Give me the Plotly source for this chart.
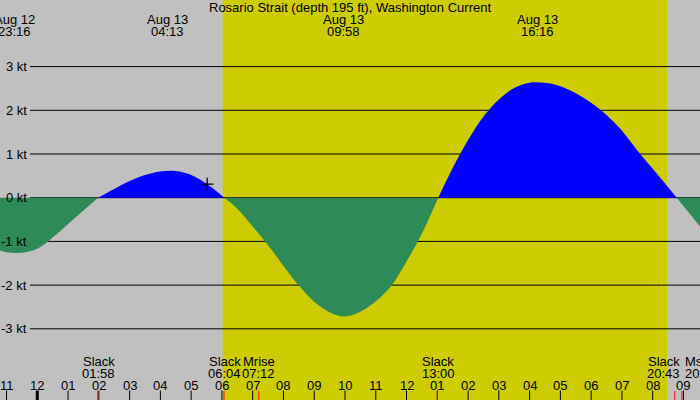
import plotly.graph_objects as go

# ---- data (hours since Aug 13 00:00) ----
flow_hours = [-1.212, -1.0, -0.5, 0.0, 0.5, 1.0, 1.5, 1.98,
              2.5, 3.0, 3.5, 4.0, 4.5, 5.0, 5.5, 6.08,
              6.5, 7.0, 7.5, 8.0, 8.5, 9.0, 9.5, 10.0, 10.5, 11.0, 11.5, 12.0, 12.5, 13.03,
              13.5, 14.0, 14.5, 15.0, 15.5, 16.0, 16.5, 17.0, 17.5, 18.0, 18.5,
              19.0, 19.5, 20.0, 20.5, 20.78,
              21.0, 21.25, 21.537]
flow_knots = [-1.21, -1.25, -1.26, -1.17, -0.91, -0.6, -0.29, 0,
              0.2, 0.38, 0.52, 0.6, 0.61, 0.52, 0.32, 0,
              -0.25, -0.66, -1.09, -1.56, -2.01, -2.38, -2.62, -2.72, -2.61, -2.37, -2.02, -1.46, -0.82, 0,
              0.68, 1.32, 1.86, 2.25, 2.51, 2.63, 2.63, 2.55, 2.39, 2.17, 1.89,
              1.53, 1.08, 0.66, 0.24, 0,
              -0.19, -0.41, -0.66]

max_dates = ["Aug 12", "Aug 13", "Aug 13", "Aug 13"]
max_times = ["23:16", "04:13", "09:58", "16:16"]
max_hours = [-0.733, 4.217, 9.967, 16.267]

event_names = ["Slack", "Slack", "Mrise", "Slack", "Slack", "Mset"]
event_times = ["01:58", "06:04", "07:12", "13:00", "20:43", "20:57"]
event_hours = [1.967, 6.067, 7.2, 13.0, 20.717, 20.95]

hour_ticks = list(range(-1, 22))
hour_labels = ["11", "12", "01", "02", "03", "04", "05", "06", "07", "08", "09", "10",
               "11", "12", "01", "02", "03", "04", "05", "06", "07", "08", "09"]

kt_levels = [3, 2, 1, 0, -1, -2, -3]
kt_labels = ["3 kt", "2 kt", "1 kt", "0 kt", "-1 kt", "-2 kt", "-3 kt"]

sunrise_h = 6.025
sunset_h = 20.465
now_h, now_kt = 5.52, 0.31

title = "Rosario Strait (depth 195 ft), Washington Current"

# ---- style ----
W, H = 700, 400
GRAY = "#c0c0c0"
YELLOW = "#cccc00"
BLUE = "#0000ff"
GREEN = "#2e8b57"
FONT = dict(family="Liberation Sans, Arial, sans-serif", size=13, color="#000000")
XR = [-1.212, 21.537]
YR = [-4.629, 4.524]


def py(p):
    return 1 - p / H


fig = go.Figure()

# split the flow into same-sign segments
segs = []
cur = [(flow_hours[0], flow_knots[0])]
for t, v in zip(flow_hours[1:], flow_knots[1:]):
    cur.append((t, v))
    if v == 0:
        segs.append(cur)
        cur = [(t, v)]
if len(cur) > 1:
    segs.append(cur)

for s in segs:
    xs = [p[0] for p in s]
    ys = [p[1] for p in s]
    pos = sum(ys) > 0
    fig.add_trace(go.Scatter(
        x=xs, y=ys, mode="lines", fill="tozeroy",
        line=dict(width=0, shape="spline", smoothing=1.0),
        fillcolor=BLUE if pos else GREEN, hoverinfo="skip", showlegend=False))

fig.add_trace(go.Scatter(
    x=[now_h], y=[now_kt], mode="markers",
    marker=dict(symbol="cross-thin", size=9, line=dict(color="black", width=1.3)),
    showlegend=False, hoverinfo="skip"))

shapes = [
    dict(type="rect", xref="paper", yref="paper", x0=0, x1=1, y0=0, y1=1,
         fillcolor=GRAY, line=dict(width=0), layer="below"),
    dict(type="rect", xref="x", yref="paper", x0=sunrise_h, x1=sunset_h, y0=0, y1=1,
         fillcolor=YELLOW, line=dict(width=0), layer="below"),
]
for k in kt_levels:
    shapes.append(dict(type="line", xref="paper", yref="y", x0=30 / W, x1=1, y0=k, y1=k,
                       line=dict(color="black", width=1), layer="below"))
for h in hour_ticks:
    shapes.append(dict(type="line", xref="x", yref="paper", x0=h, x1=h,
                       y0=0, y1=py(390.5),
                       line=dict(color="black", width=3 if h % 24 == 0 else 1)))
for h in event_hours:
    shapes.append(dict(type="line", xref="x", yref="paper", x0=h, x1=h,
                       y0=0, y1=py(391),
                       line=dict(color="red", width=1)))

ann = []
ann.append(dict(text=title, xref="paper", yref="paper", x=0.5, y=py(7.5),
                xanchor="center", yanchor="middle", showarrow=False, font=FONT))
for d, t, h in zip(max_dates, max_times, max_hours):
    ann.append(dict(text=d, xref="x", yref="paper", x=h, y=py(19.5),
                    xanchor="center", yanchor="middle", showarrow=False, font=FONT))
    ann.append(dict(text=t, xref="x", yref="paper", x=h, y=py(31.5),
                    xanchor="center", yanchor="middle", showarrow=False, font=FONT))
shifts = [1, 1, 0, 1, -11, 1]
anchors = ["center", "center", "center", "center", "center", "left"]
for i, (n, t, h) in enumerate(zip(event_names, event_times, event_hours)):
    ann.append(dict(text=n, xref="x", yref="paper", x=h, y=py(361.5), xshift=shifts[i],
                    xanchor=anchors[i], yanchor="middle", showarrow=False, font=FONT))
    ann.append(dict(text=t, xref="x", yref="paper", x=h, y=py(373.3), xshift=shifts[i],
                    xanchor=anchors[i], yanchor="middle", showarrow=False, font=FONT))
for h, lab in zip(hour_ticks, hour_labels):
    ann.append(dict(text=lab, xref="x", yref="paper", x=h, y=py(385.5),
                    xanchor="center", yanchor="middle", showarrow=False, font=FONT))
for k, lab in zip(kt_levels, kt_labels):
    ann.append(dict(text=lab, xref="paper", yref="y", x=29 / W, y=k,
                    xanchor="right", yanchor="middle", showarrow=False, font=FONT))

fig.update_layout(
    width=W, height=H, margin=dict(l=0, r=0, t=0, b=0),
    paper_bgcolor=GRAY, plot_bgcolor=GRAY,
    xaxis=dict(range=XR, visible=False, fixedrange=True),
    yaxis=dict(range=YR, visible=False, fixedrange=True),
    shapes=shapes, annotations=ann, showlegend=False,
)

fig.write_html(
    "out.html",
    config={"displayModeBar": False},
    post_script="document.body.style.margin='0px';document.body.style.overflow='hidden';",
)
